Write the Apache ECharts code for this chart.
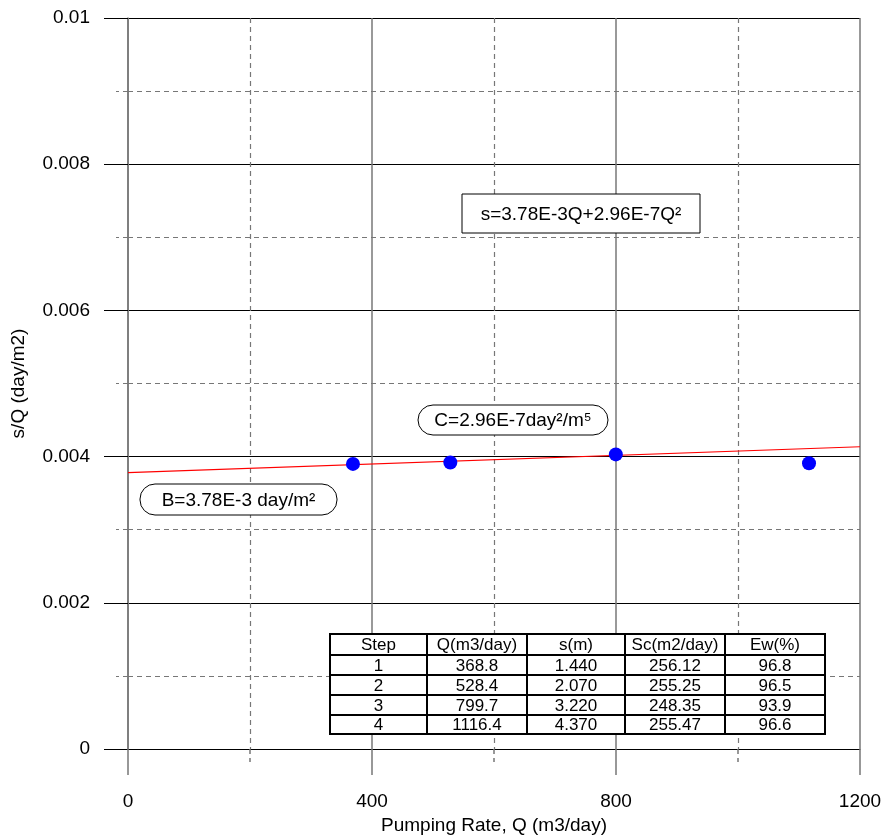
<!DOCTYPE html>
<html>
<head>
<meta charset="utf-8">
<script src="https://cdn.jsdelivr.net/npm/echarts@6/dist/echarts.min.js"></script>
<style>html,body{margin:0;padding:0;background:#fff}#c{width:885px;height:835px}</style>
</head>
<body>
<div id="c"></div>
<script>
// ---- data ----
var pumpingRate = [368.8, 528.4, 799.7, 1116.4];
var sOverQ = [0.00390, 0.00392, 0.00403, 0.00391];
var fitLineQ = [0, 1200];
var fitLineSQ = [0.00378, 0.004135];
var tableHeader = ['Step', 'Q(m3/day)', 's(m)', 'Sc(m2/day)', 'Ew(%)'];
var colStep = ['1', '2', '3', '4'];
var colQ = ['368.8', '528.4', '799.7', '1116.4'];
var colS = ['1.440', '2.070', '3.220', '4.370'];
var colSc = ['256.12', '255.25', '248.35', '255.47'];
var colEw = ['96.8', '96.5', '93.9', '96.6'];
var eqText = 's=3.78E-3Q+2.96E-7Q\u00B2';
var cText = 'C=2.96E-7day\u00B2/m\u2075';
var bText = 'B=3.78E-3 day/m\u00B2';

var FONT = '"Liberation Sans", Arial, sans-serif';
var chart = echarts.init(document.getElementById('c'));

// table graphic
var colX = [330, 427, 527, 625, 725, 825];
var rowY = [634, 655, 675, 695, 715, 734];
var rows = [tableHeader];
for (var i = 0; i < colStep.length; i++) rows.push([colStep[i], colQ[i], colS[i], colSc[i], colEw[i]]);
var tableEls = [];
tableEls.push({type:'rect', z:100, shape:{x:colX[0], y:rowY[0], width:colX[5]-colX[0], height:rowY[5]-rowY[0]}, style:{fill:'#fff', stroke:null}});
for (var r = 0; r < rows.length; r++) {
  for (var c = 0; c < 5; c++) {
    tableEls.push({type:'text', z:101, style:{text:rows[r][c], x:(colX[c]+colX[c+1])/2, y:(rowY[r]+rowY[r+1])/2+1,
      textAlign:'center', textVerticalAlign:'middle', font:'17px ' + FONT, fill:'#000'}});
  }
}
for (var c = 0; c < colX.length; c++) {
  tableEls.push({type:'line', z:102, shape:{x1:colX[c], y1:rowY[0], x2:colX[c], y2:rowY[5]}, style:{stroke:'#000', lineWidth:2}});
}
for (var r = 0; r < rowY.length; r++) {
  tableEls.push({type:'line', z:102, shape:{x1:colX[0]-1, y1:rowY[r], x2:colX[5]+1, y2:rowY[r]}, style:{stroke:'#000', lineWidth:2}});
}

function box(x, y, w, h, rad, txt) {
  return [
    {type:'rect', z:100, shape:{x:x, y:y, width:w, height:h, r:rad}, style:{fill:'#fff', stroke:'#000', lineWidth:1}},
    {type:'text', z:101, style:{text:txt, x:x+w/2, y:y+h/2+1, textAlign:'center', textVerticalAlign:'middle', font:'19px ' + FONT, fill:'#000'}}
  ];
}

var option = {
  backgroundColor: '#fff',
  animation: false,
  grid: {left:128, right:25, top:18, bottom:86, containLabel:false, outerBoundsMode:'none'},
  xAxis: {
    type:'value', min:0, max:1200, interval:400,
    name:'Pumping Rate, Q (m3/day)', nameLocation:'middle', nameGap:63,
    nameTextStyle:{fontFamily:FONT, fontSize:19, color:'#000'},
    axisLine:{show:true, lineStyle:{color:'#000', width:1}},
    axisTick:{show:true, inside:false, length:26, lineStyle:{color:'#777', width:1.5}},
    minorTick:{show:true, splitNumber:2, length:13, lineStyle:{color:'#777', width:1.5, type:[5,4]}},
    axisLabel:{margin:43, fontFamily:FONT, fontSize:19, color:'#000', formatter:function(v){return String(v);}},
    splitLine:{show:true, lineStyle:{color:'#777', width:1.5}},
    minorSplitLine:{show:true, lineStyle:{color:'#777', width:1.2, type:[5,4]}}
  },
  yAxis: {
    type:'value', min:0, max:0.01, interval:0.002,
    name:'s/Q (day/m2)', nameLocation:'middle', nameGap:100,
    nameTextStyle:{fontFamily:FONT, fontSize:19, color:'#000'},
    axisLine:{show:true, lineStyle:{color:'#777', width:1.5}},
    axisTick:{show:true, inside:false, length:24, lineStyle:{color:'#000', width:1}},
    minorTick:{show:true, splitNumber:2, length:12, lineStyle:{color:'#777', width:1.2, type:[5,4]}},
    axisLabel:{margin:38, fontFamily:FONT, fontSize:19, color:'#000', padding:[6,0,0,0]},
    splitLine:{show:true, lineStyle:{color:'#000', width:1}},
    minorSplitLine:{show:true, lineStyle:{color:'#777', width:1.2, type:[5,4]}}
  },
  series: [
    {type:'line', data:fitLineQ.map(function(q,i){return [q, fitLineSQ[i]];}), symbol:'none',
      lineStyle:{color:'#ff0000', width:1.2}, z:3, silent:true},
    {type:'scatter', data:pumpingRate.map(function(q,i){return [q, sOverQ[i]];}), symbol:'circle',
      symbolSize:14, itemStyle:{color:'#0000ff', opacity:1}, z:4}
  ],
  graphic: tableEls
    .concat(box(462, 194, 238, 39, 0, eqText))
    .concat(box(418, 405, 190, 30, 15, cText))
    .concat(box(140, 484, 197, 31, 15, bText))
};
chart.setOption(option);
</script>
</body>
</html>
